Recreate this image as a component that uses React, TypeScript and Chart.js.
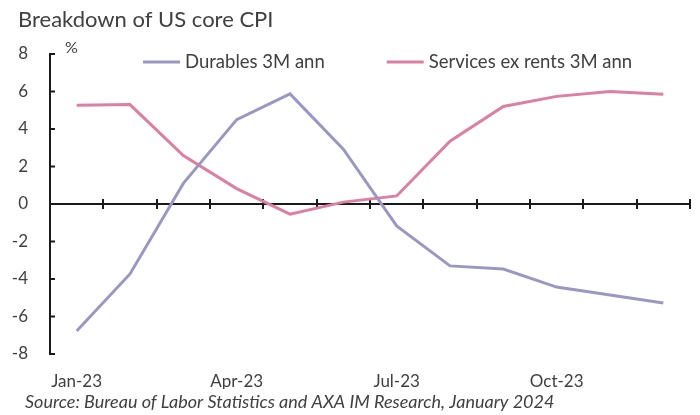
import React, { useEffect, useRef } from "react";
import { Chart, registerables } from "chart.js";

Chart.register(...registerables);

const titleText = "Breakdown of US core CPI";
const sourceText = "Source: Bureau of Labor Statistics and AXA IM Research, January 2024";
const unitLabel = "%";

const months = [
  "Jan-23", "Feb-23", "Mar-23", "Apr-23", "May-23", "Jun-23",
  "Jul-23", "Aug-23", "Sep-23", "Oct-23", "Nov-23", "Dec-23",
];
const shownMonthLabels = ["Jan-23", "Apr-23", "Jul-23", "Oct-23"];

const durablesLabel = "Durables 3M ann";
const durables = [-6.77, -3.73, 1.1, 4.5, 5.87, 2.92, -1.17, -3.3, -3.47, -4.43, -4.85, -5.28];

const servicesLabel = "Services ex rents 3M ann";
const services = [5.27, 5.3, 2.58, 0.82, -0.54, 0.1, 0.43, 3.35, 5.2, 5.74, 6.0, 5.85];

const yMin = -8;
const yMax = 8;
const yStep = 2;

const FONT = "Lato, 'Open Sans', sans-serif";
const TEXT = "#404040";
const AXIS = "#1a1a1a";
const DUR_COLOR = "#9a98c3";
const SRV_COLOR = "#dc7fa0";

const decorPlugin = {
  id: "decor",
  beforeDatasetsDraw(chart: any) {
    const { ctx, chartArea } = chart;
    const y = chart.scales.y;
    const x = chart.scales.x;
    const y0 = y.getPixelForValue(0);
    ctx.save();
    ctx.strokeStyle = AXIS;
    ctx.lineWidth = 2;
    ctx.beginPath();
    ctx.moveTo(chartArea.left, y0);
    ctx.lineTo(chartArea.right, y0);
    ctx.stroke();
    const n = x.getLabels().length;
    const w = (chartArea.right - chartArea.left) / n;
    for (let i = 1; i <= n; i++) {
      const px = Math.round(chartArea.left + i * w);
      ctx.beginPath();
      ctx.moveTo(px, y0 - 5);
      ctx.lineTo(px, y0 + 5);
      ctx.stroke();
    }
    for (let v = yMin; v <= yMax; v += yStep) {
      const py = y.getPixelForValue(v);
      ctx.beginPath();
      ctx.moveTo(chartArea.left, py);
      ctx.lineTo(chartArea.left + 5, py);
      ctx.stroke();
    }
    ctx.restore();
  },
  afterDraw(chart: any) {
    const { ctx, chartArea } = chart;
    ctx.save();
    ctx.textAlign = "left";
    ctx.textBaseline = "middle";
    ctx.fillStyle = TEXT;
    // title
    ctx.font = `22px ${FONT}`;
    ctx.fillText(titleText, 18, 20);
    // unit label
    ctx.font = `16px ${FONT}`;
    ctx.fillText(unitLabel, chartArea.left + 15, chartArea.top - 6);
    // legend
    ctx.font = `18.5px ${FONT}`;
    let lx = chartArea.left + 93;
    const ly = chartArea.top + 8;
    chart.data.datasets.forEach((ds: any) => {
      ctx.strokeStyle = ds.borderColor;
      ctx.lineWidth = 3;
      ctx.beginPath();
      ctx.moveTo(lx, ly);
      ctx.lineTo(lx + 37, ly);
      ctx.stroke();
      ctx.fillStyle = TEXT;
      ctx.fillText(ds.label, lx + 42, ly);
      lx += 42 + ctx.measureText(ds.label).width + 62;
    });
    // source
    ctx.font = `italic 18px ${FONT}`;
    ctx.fillStyle = TEXT;
    ctx.fillText(sourceText, 25, chart.height - 13);
    ctx.restore();
  },
};

export default function App() {
  const ref = useRef<HTMLCanvasElement>(null);
  useEffect(() => {
    document.body.style.margin = "0";
    const canvas = ref.current!;
    const chart = new Chart(canvas, {
      type: "line",
      data: {
        labels: months,
        datasets: [
          {
            label: durablesLabel,
            data: durables,
            borderColor: DUR_COLOR,
            backgroundColor: DUR_COLOR,
            borderWidth: 3,
            pointRadius: 0,
            tension: 0,
          },
          {
            label: servicesLabel,
            data: services,
            borderColor: SRV_COLOR,
            backgroundColor: SRV_COLOR,
            borderWidth: 3,
            pointRadius: 0,
            tension: 0,
          },
        ],
      },
      plugins: [decorPlugin],
      options: {
        animation: false,
        responsive: false,
        devicePixelRatio: 1,
        font: { family: FONT },
        layout: { padding: { left: 8, right: 10, top: 54, bottom: 26 } },
        plugins: {
          legend: { display: false },
          tooltip: { enabled: false },
          title: { display: false },
        },
        scales: {
          x: {
            type: "category",
            offset: true,
            afterFit: (scale: any) => {
              scale.height = 35;
            },
            grid: { display: false, drawTicks: false },
            border: { display: false },
            ticks: {
              autoSkip: false,
              maxRotation: 0,
              padding: 17,
              color: TEXT,
              font: { family: FONT, size: 17 },
              callback: (_v: any, i: number) =>
                shownMonthLabels.includes(months[i]) ? months[i] : "",
            },
          },
          y: {
            min: yMin,
            max: yMax,
            afterFit: (scale: any) => {
              scale.width = 42;
            },
            grid: { display: false, drawTicks: false },
            border: { display: true, color: AXIS, width: 2 },
            ticks: {
              stepSize: yStep,
              padding: 22,
              color: TEXT,
              font: { family: FONT, size: 17 },
            },
          },
        },
      },
    } as any);
    return () => chart.destroy();
  }, []);
  return (
    <div style={{ width: 700, height: 415 }}>
      <canvas ref={ref} width={700} height={415} style={{ display: "block", width: 700, height: 415 }} />
    </div>
  );
}
